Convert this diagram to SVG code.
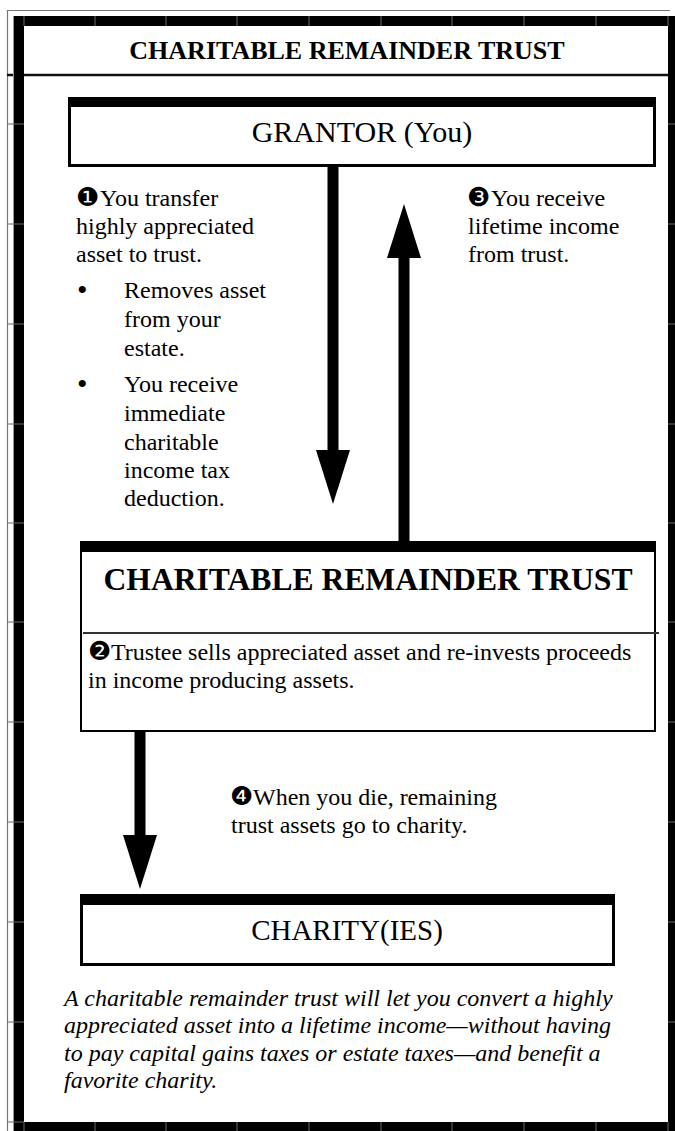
<svg xmlns="http://www.w3.org/2000/svg" width="675" height="1131" viewBox="0 0 675 1131">
<style>
  .serif{font-family:"Liberation Serif","Times New Roman",serif;fill:#000;}
  .body{font-size:24px;}
  .num{font-family:"DejaVu Sans",sans-serif;font-size:26px;}
  .box{fill:#fff;stroke:#000;}
  .bar{fill:#000;}
  .tick{stroke:#6a6a6a;stroke-width:1;}
  .conn{stroke:#000;stroke-width:11;fill:none;}
  .bul{font-size:30px;}
</style>
<defs>
  <marker id="head" viewBox="0 0 54 34" refX="0" refY="17" markerUnits="userSpaceOnUse" markerWidth="54" markerHeight="34" orient="auto">
    <path d="M0,0 L54,17 L0,34 Z" fill="#000"/>
  </marker>
</defs>
<rect width="675" height="1131" fill="#fff"/>
<g id="frame">
  <path d="M7.5,1131 V10.5 H670" fill="none" stroke="#777" stroke-width="1.2"/>
  <line x1="7" y1="75" x2="675" y2="75" stroke="#111" stroke-width="2.5"/>
  <line x1="13.5" y1="16" x2="13.5" y2="1131" stroke="#999" stroke-width="1"/>
  <rect x="19" y="21" width="654" height="1106" fill="none" stroke="#000" stroke-width="10"/>
  <g class="tick">
    <path d="M24,16V26 M95,16V26 M166,16V26 M237,16V26 M309,16V26 M381,16V26 M452,16V26 M524,16V26 M596,16V26 M668,16V26"/>
    <path d="M24,1122V1131 M95,1122V1131 M166,1122V1131 M237,1122V1131 M309,1122V1131 M381,1122V1131 M452,1122V1131 M524,1122V1131 M596,1122V1131 M668,1122V1131"/>
    <path d="M7,124H24 M7,224H24 M7,324H24 M7,424H24 M7,523H24 M7,622H24 M7,722H24 M7,822H24 M7,922H24 M7,1022H24 M7,1122H24"/>
    <path d="M668,124H675 M668,224H675 M668,324H675 M668,424H675 M668,523H675 M668,622H675 M668,722H675 M668,822H675 M668,922H675 M668,1022H675"/>
  </g>
  <text class="serif" x="347" y="59" font-size="26" font-weight="bold" text-anchor="middle">CHARITABLE REMAINDER TRUST</text>
</g>

<g id="connectors">
  <line class="conn" x1="333" y1="167" x2="333" y2="450" marker-end="url(#head)"/>
  <line class="conn" x1="404" y1="541" x2="404" y2="258" marker-end="url(#head)"/>
  <line class="conn" x1="140" y1="732" x2="140" y2="835" marker-end="url(#head)"/>
</g>

<g id="grantor">
  <rect class="box" x="69.5" y="98.5" width="585" height="67" stroke-width="3"/>
  <rect class="bar" x="68" y="97" width="588" height="10"/>
  <text class="serif" x="362" y="142" font-size="30" text-anchor="middle">GRANTOR (You)</text>
</g>

<g id="trust">
  <rect class="box" x="81" y="542" width="574" height="189" stroke-width="2"/>
  <rect class="bar" x="80" y="541" width="576" height="11"/>
  <text class="serif" x="368" y="590" font-size="31.6" font-weight="bold" text-anchor="middle">CHARITABLE REMAINDER TRUST</text>
  <line x1="83" y1="633" x2="659" y2="633" stroke="#333" stroke-width="2"/>
  <text class="serif body" x="88" y="660"><tspan class="num">❷</tspan><tspan x="111">Trustee sells appreciated asset and re-invests proceeds</tspan></text>
  <text class="serif body" x="88" y="688">in income producing assets.</text>
</g>

<g id="charity">
  <rect class="box" x="81.5" y="895.5" width="532" height="69" stroke-width="3"/>
  <rect class="bar" x="80" y="894" width="535" height="11"/>
  <text class="serif" x="347" y="940" font-size="29" text-anchor="middle">CHARITY(IES)</text>
</g>

<g id="label-transfer" class="serif body">
  <text x="76" y="206"><tspan class="num">❶</tspan><tspan x="100">You transfer</tspan></text>
  <text x="76" y="234">highly appreciated</text>
  <text x="76" y="262">asset to trust.</text>
  <text class="bul" x="77" y="300">•</text>
  <text x="124" y="298">Removes asset</text>
  <text x="124" y="327">from your</text>
  <text x="124" y="356">estate.</text>
  <text class="bul" x="77" y="394">•</text>
  <text x="124" y="392">You receive</text>
  <text x="124" y="421">immediate</text>
  <text x="124" y="450">charitable</text>
  <text x="124" y="478">income tax</text>
  <text x="124" y="506">deduction.</text>
</g>

<g id="label-income" class="serif body">
  <text x="467" y="206"><tspan class="num">❸</tspan><tspan x="491">You receive</tspan></text>
  <text x="468" y="234">lifetime income</text>
  <text x="468" y="262">from trust.</text>
</g>

<g id="label-remainder" class="serif body">
  <text x="230" y="805"><tspan class="num">❹</tspan><tspan x="253">When you die, remaining</tspan></text>
  <text x="231" y="833">trust assets go to charity.</text>
</g>

<g id="caption" class="serif body" font-style="italic">
  <text x="64" y="1006">A charitable remainder trust will let you convert a highly</text>
  <text x="64" y="1033">appreciated asset into a lifetime income—without having</text>
  <text x="64" y="1061">to pay capital gains taxes or estate taxes—and benefit a</text>
  <text x="64" y="1088">favorite charity.</text>
</g>
</svg>
